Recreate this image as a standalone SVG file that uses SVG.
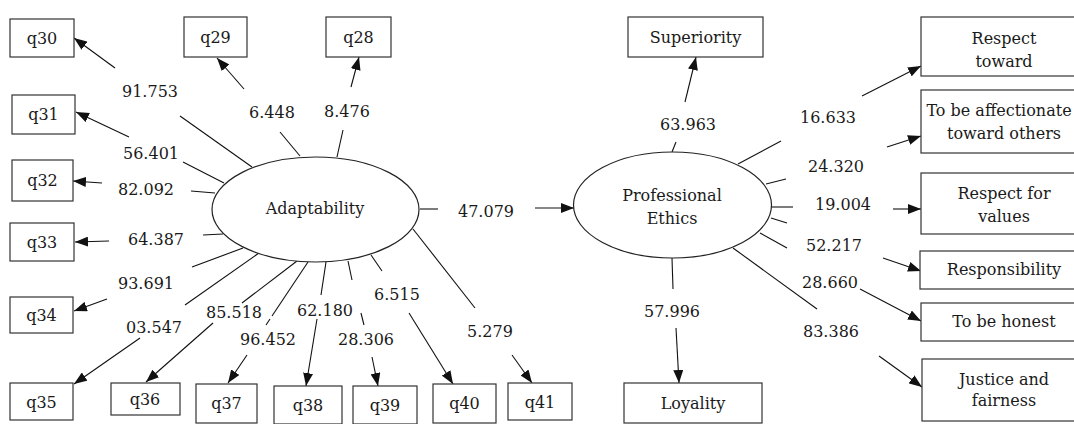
<svg xmlns="http://www.w3.org/2000/svg" width="1074" height="424" viewBox="0 0 1074 424">
<style>
text{font-family:"DejaVu Serif","Liberation Serif",serif;font-size:16px;fill:#1a1a1a;text-anchor:middle}
.box{fill:#fff;stroke:#333;stroke-width:1.2}
.ell{fill:#fff;stroke:#222;stroke-width:1.2}
.ln{stroke:#111;stroke-width:1.1;fill:none}
.ar{stroke:#111;stroke-width:1.1;fill:none;marker-end:url(#ah)}
</style>
<defs>
<marker id="ah" markerUnits="userSpaceOnUse" markerWidth="13" markerHeight="10" viewBox="0 0 13 10" refX="13" refY="5" orient="auto">
<path d="M0,0 L13,5 L0,10 z" fill="#111"/>
</marker>
</defs>
<rect width="1074" height="424" fill="#fff"/>

<g id="connectors">
<line class="ln" x1="252" y1="167" x2="180" y2="116"/>
<line class="ln" x1="300" y1="156" x2="280" y2="132"/>
<line class="ln" x1="337" y1="157" x2="343" y2="130"/>
<line class="ln" x1="224" y1="183" x2="183" y2="162"/>
<line class="ln" x1="215" y1="193" x2="191" y2="191"/>
<line class="ln" x1="223" y1="234" x2="203" y2="235"/>
<line class="ln" x1="243" y1="248" x2="192" y2="267"/>
<line class="ln" x1="259" y1="253" x2="185" y2="305"/>
<line class="ln" x1="297" y1="261" x2="242" y2="303"/>
<line class="ln" x1="308" y1="262" x2="272" y2="316"/>
<line class="ln" x1="270" y1="319" x2="266" y2="325"/>
<line class="ln" x1="326" y1="262" x2="321" y2="295"/>
<line class="ln" x1="348" y1="261" x2="352" y2="280"/>
<line class="ln" x1="361" y1="313" x2="364" y2="325"/>
<line class="ln" x1="371" y1="255" x2="382" y2="271"/>
<line class="ln" x1="413" y1="229" x2="475" y2="308"/>
<line class="ln" x1="420" y1="209" x2="438" y2="209"/>
<line class="ar" x1="115" y1="68" x2="74" y2="38"/>
<line class="ar" x1="244" y1="89" x2="217" y2="58"/>
<line class="ar" x1="351" y1="87" x2="359" y2="57"/>
<line class="ar" x1="129" y1="137" x2="76" y2="112"/>
<line class="ar" x1="102" y1="183" x2="73" y2="181"/>
<line class="ar" x1="109" y1="241" x2="75" y2="242"/>
<line class="ar" x1="107" y1="299" x2="74" y2="311"/>
<line class="ar" x1="140" y1="338" x2="74" y2="384"/>
<line class="ar" x1="213" y1="323" x2="146" y2="382"/>
<line class="ar" x1="247" y1="355" x2="228" y2="383"/>
<line class="ar" x1="317" y1="319" x2="306" y2="386"/>
<line class="ar" x1="372" y1="357" x2="378" y2="386"/>
<line class="ar" x1="409" y1="313" x2="453" y2="384"/>
<line class="ar" x1="512" y1="355" x2="532" y2="383"/>
<line class="ar" x1="535" y1="208" x2="574" y2="208"/>
<line class="ln" x1="672" y1="152" x2="676" y2="142"/>
<line class="ln" x1="738" y1="164" x2="781" y2="141"/>
<line class="ln" x1="766" y1="184" x2="786" y2="179"/>
<line class="ln" x1="771" y1="207" x2="793" y2="207"/>
<line class="ln" x1="771" y1="218" x2="787" y2="223"/>
<line class="ln" x1="760" y1="233" x2="787" y2="248"/>
<line class="ln" x1="733" y1="248" x2="817" y2="309"/>
<line class="ln" x1="672" y1="258" x2="673" y2="289"/>
<line class="ar" x1="685" y1="102" x2="696" y2="57"/>
<line class="ar" x1="862" y1="96" x2="921" y2="66"/>
<line class="ar" x1="887" y1="147" x2="921" y2="136"/>
<line class="ar" x1="893" y1="209" x2="921" y2="209"/>
<line class="ar" x1="883" y1="258" x2="921" y2="271"/>
<line class="ar" x1="860" y1="289" x2="921" y2="321"/>
<line class="ar" x1="879" y1="356" x2="922" y2="387"/>
<line class="ar" x1="676" y1="328" x2="679" y2="383"/>
</g>

<g id="labels">
<text x="150" y="97">91.753</text>
<text x="272" y="118">6.448</text>
<text x="347" y="117">8.476</text>
<text x="151" y="159">56.401</text>
<text x="146" y="195">82.092</text>
<text x="156" y="245">64.387</text>
<text x="146" y="289">93.691</text>
<text x="154" y="333">03.547</text>
<text x="234" y="318">85.518</text>
<text x="268" y="345">96.452</text>
<text x="325" y="316">62.180</text>
<text x="366" y="345">28.306</text>
<text x="397" y="300">6.515</text>
<text x="490" y="337">5.279</text>
<text x="486" y="217">47.079</text>
<text x="688" y="130">63.963</text>
<text x="828" y="123">16.633</text>
<text x="836" y="172">24.320</text>
<text x="843" y="210">19.004</text>
<text x="834" y="251">52.217</text>
<text x="830" y="288">28.660</text>
<text x="831" y="337">83.386</text>
<text x="672" y="317">57.996</text>
</g>

<g id="Adaptability"><ellipse class="ell" cx="315.5" cy="209.5" rx="103.5" ry="52.5"/><text x="315" y="214">Adaptability</text></g>
<g id="ProfessionalEthics"><ellipse class="ell" cx="672.5" cy="205" rx="99" ry="53"/><text x="672" y="201">Professional</text><text x="672" y="224">Ethics</text></g>

<g id="q30"><rect class="box" x="10" y="19" width="64" height="38"/><text x="42" y="44">q30</text></g>
<g id="q29"><rect class="box" x="184" y="17" width="63" height="40"/><text x="215.5" y="43">q29</text></g>
<g id="q28"><rect class="box" x="326" y="17" width="65" height="40"/><text x="358.5" y="43">q28</text></g>
<g id="q31"><rect class="box" x="12" y="95" width="63" height="39"/><text x="43.5" y="120">q31</text></g>
<g id="q32"><rect class="box" x="12" y="160" width="61" height="41"/><text x="42.5" y="186">q32</text></g>
<g id="q33"><rect class="box" x="10" y="223" width="64" height="38"/><text x="42" y="248">q33</text></g>
<g id="q34"><rect class="box" x="10" y="297" width="63" height="36"/><text x="41.5" y="321">q34</text></g>
<g id="q35"><rect class="box" x="10" y="383" width="63" height="37"/><text x="41.5" y="408">q35</text></g>
<g id="q36"><rect class="box" x="111" y="383" width="69" height="32"/><text x="145" y="405">q36</text></g>
<g id="q37"><rect class="box" x="196" y="384" width="61" height="39"/><text x="226.5" y="409">q37</text></g>
<g id="q38"><rect class="box" x="274" y="386" width="68" height="38"/><text x="308" y="411">q38</text></g>
<g id="q39"><rect class="box" x="353" y="386" width="64" height="38"/><text x="385" y="411">q39</text></g>
<g id="q40"><rect class="box" x="433" y="384" width="63" height="39"/><text x="464.5" y="409">q40</text></g>
<g id="q41"><rect class="box" x="508" y="383" width="64" height="37"/><text x="540" y="408">q41</text></g>

<g id="Superiority"><rect class="box" x="628" y="17" width="135" height="40"/><text x="695.5" y="43">Superiority</text></g>
<g id="Loyality"><rect class="box" x="624" y="383" width="138" height="40"/><text x="693" y="409">Loyality</text></g>
<g id="RespectToward"><rect class="box" x="921" y="17" width="166" height="59"/><text x="1004" y="44">Respect</text><text x="1004" y="67">toward</text></g>
<g id="Affectionate"><rect class="box" x="921" y="90" width="166" height="63"/><text x="999" y="116">To be affectionate</text><text x="1004" y="139">toward others</text></g>
<g id="RespectValues"><rect class="box" x="921" y="173" width="166" height="61"/><text x="1004" y="199">Respect for</text><text x="1004" y="222">values</text></g>
<g id="Responsibility"><rect class="box" x="920" y="251" width="167" height="38"/><text x="1004" y="275">Responsibility</text></g>
<g id="Honest"><rect class="box" x="921" y="303" width="166" height="38"/><text x="1004" y="327">To be honest</text></g>
<g id="Justice"><rect class="box" x="922" y="359" width="165" height="62"/><text x="1004" y="385">Justice and</text><text x="1004" y="406">fairness</text></g>
</svg>
